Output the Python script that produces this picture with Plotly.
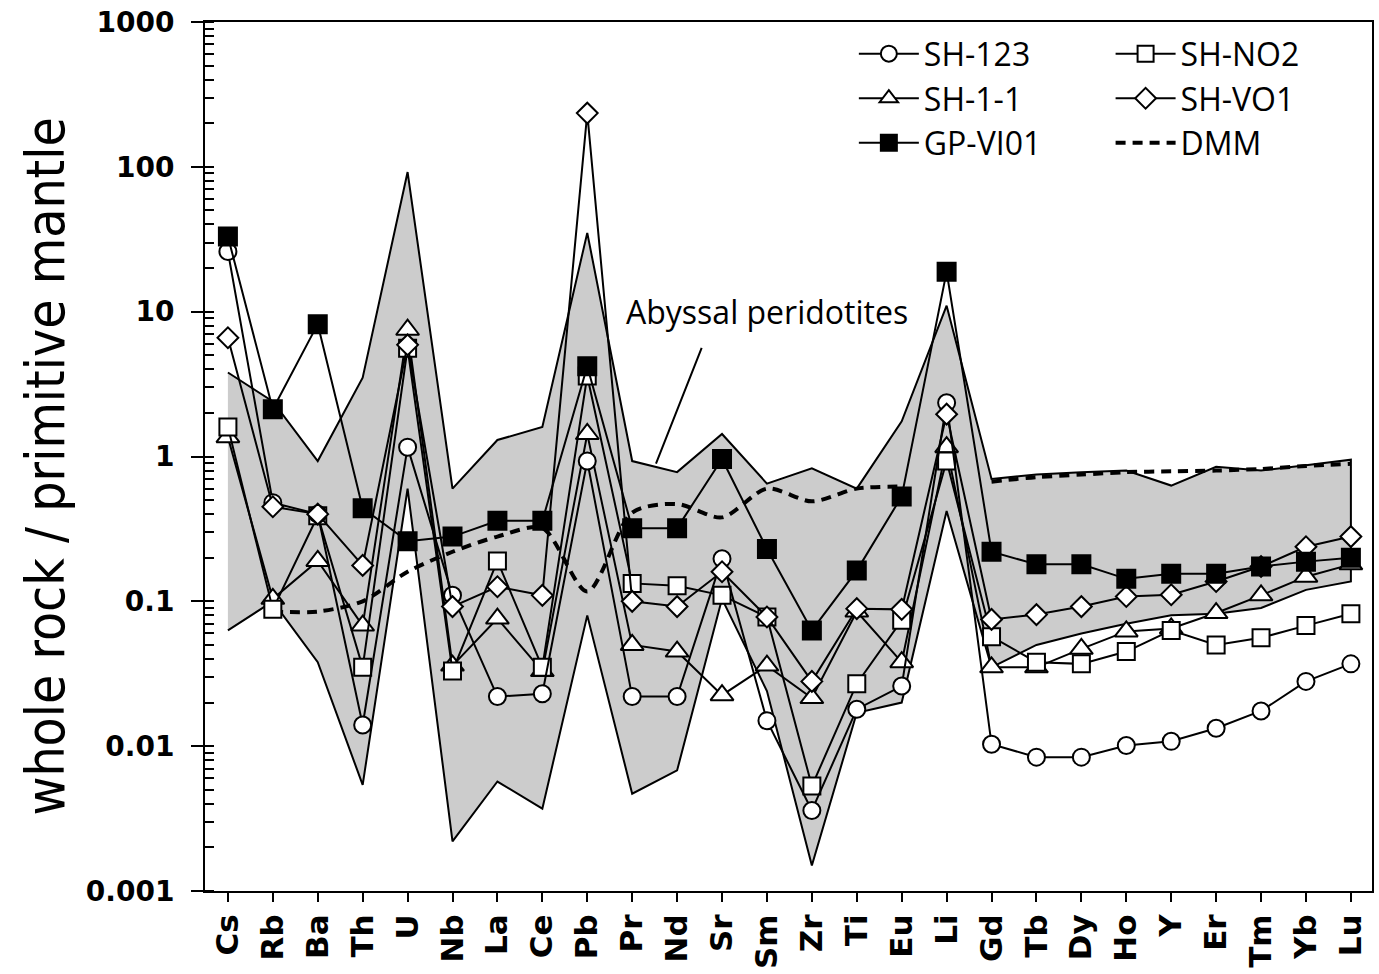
import plotly.graph_objects as go

elements = ["Cs", "Rb", "Ba", "Th", "U", "Nb", "La", "Ce", "Pb", "Pr", "Nd", "Sr", "Sm",
            "Zr", "Ti", "Eu", "Li", "Gd", "Tb", "Dy", "Ho", "Y", "Er", "Tm", "Yb", "Lu"]

sh_123 = [26, 0.48, 0.40, 0.014, 1.16, 0.11, 0.022, 0.023, 0.93, 0.022, 0.022, 0.197, 0.015,
          0.0036, 0.018, 0.026, 2.35, 0.0103, 0.0084, 0.0084, 0.0101, 0.0108, 0.0133, 0.0175, 0.028, 0.037]
sh_no2 = [1.6, 0.088, 0.39, 0.035, 5.6, 0.033, 0.19, 0.035, 3.6, 0.133, 0.128, 0.11, 0.078,
          0.0053, 0.027, 0.074, 0.93, 0.057, 0.038, 0.037, 0.045, 0.063, 0.05, 0.056, 0.068, 0.082]
sh_1_1 = [1.36, 0.104, 0.19, 0.068, 7.5, 0.036, 0.076, 0.033, 1.43, 0.05, 0.045, 0.0225, 0.036,
          0.0215, 0.085, 0.038, 1.16, 0.035, 0.035, 0.047, 0.062, 0.065, 0.083, 0.11, 0.148, 0.18]
sh_vo1 = [6.6, 0.45, 0.40, 0.177, 5.9, 0.092, 0.126, 0.11, 235, 0.10, 0.092, 0.16, 0.078,
          0.028, 0.089, 0.088, 1.96, 0.075, 0.081, 0.092, 0.108, 0.111, 0.137, 0.174, 0.238, 0.28]
gp_vi01 = [33, 2.12, 8.2, 0.44, 0.26, 0.28, 0.36, 0.36, 4.2, 0.32, 0.32, 0.96, 0.23,
           0.063, 0.163, 0.53, 18.9, 0.22, 0.18, 0.18, 0.143, 0.155, 0.155, 0.174, 0.188, 0.2]
dmm = [None, 0.085, 0.085, 0.10, 0.16, 0.22, 0.28, 0.32, 0.117, 0.41, 0.47, 0.38, 0.60,
       0.49, 0.60, 0.62, None, 0.67, 0.72, 0.75, 0.78, 0.79, 0.80, 0.82, 0.86, 0.89]

abyssal_top = [3.8, 2.4, 0.93, 3.5, 92, 0.6, 1.3, 1.6, 35, 0.93, 0.78, 1.43, 0.65,
               0.83, 0.6, 1.75, 11, 0.70, 0.75, 0.78, 0.80, 0.63, 0.85, 0.80, 0.87, 0.95]
abyssal_bottom = [0.063, 0.10, 0.038, 0.0054, 0.6, 0.0022, 0.0057, 0.0037, 0.08, 0.0047, 0.0068, 0.104, 0.024,
                  0.0015, 0.017, 0.02, 0.42, 0.035, 0.05, 0.06, 0.07, 0.08, 0.082, 0.09, 0.12, 0.137]

y_tick_vals = [0.001, 0.01, 0.1, 1, 10, 100, 1000]
y_tick_text = ["0.001", "0.01", "0.1", "1", "10", "100", "1000"]

xi = list(range(len(elements)))

fig = go.Figure()

# Abyssal peridotite field
fig.add_trace(go.Scatter(
    x=xi + xi[::-1], y=abyssal_top + abyssal_bottom[::-1],
    fill="toself", fillcolor="#cccccc", mode="lines",
    line=dict(color="black", width=2), showlegend=False, hoverinfo="skip"))

LEG_FONT = dict(family="Open Sans, Noto Sans, sans-serif", size=32, color="black")

fig.add_trace(go.Scatter(
    x=xi, y=dmm, mode="lines", name="DMM", legend="legend2", legendrank=3,
    line=dict(color="black", width=4, dash="10px,7px", shape="spline", smoothing=0.8),
    connectgaps=False))


def sample(name, vals, symbol, size, fill, legend, rank):
    fig.add_trace(go.Scatter(
        x=xi, y=vals, mode="lines+markers", name=name, legend=legend, legendrank=rank,
        line=dict(color="black", width=2),
        marker=dict(symbol=symbol, size=size, color=fill,
                    line=dict(color="black", width=2))))


sample("SH-1-1", sh_1_1, "triangle-up", 20, "white", "legend", 2)
sample("SH-NO2", sh_no2, "square", 17, "white", "legend2", 1)
sample("SH-123", sh_123, "circle", 17, "white", "legend", 1)
sample("SH-VO1", sh_vo1, "diamond", 16, "white", "legend2", 2)
sample("GP-VI01", gp_vi01, "square", 18, "black", "legend", 3)

fig.add_annotation(x=12, y=1, xref="x", yref="y", text="Abyssal peridotites",
                   showarrow=False, font=LEG_FONT, xanchor="center", yanchor="middle")
fig.add_annotation(x=9.53, y=-0.05, xref="x", yref="y", ax=10.56, ay=0.761,
                   axref="x", ayref="y", text="", showarrow=True, arrowhead=0,
                   arrowwidth=2, arrowcolor="black")

# y-axis title
fig.add_annotation(x=-0.137, y=0.5, xref="paper", yref="paper", yshift=-10,
                   text="whole rock / primitive mantle", textangle=-90, showarrow=False,
                   xanchor="center", yanchor="middle",
                   font=dict(family="DejaVu Sans Condensed, DejaVu Sans", size=53, color="black"))

fig.update_layout(
    width=1379, height=974,
    margin=dict(l=205, r=5, t=22, b=81),
    paper_bgcolor="white", plot_bgcolor="white",
    legend=dict(x=0.556, y=0.995, xanchor="left", yanchor="top", font=LEG_FONT,
                bgcolor="rgba(0,0,0,0)", tracegroupgap=0, itemwidth=60),
    legend2=dict(x=0.776, y=0.995, xanchor="left", yanchor="top", font=LEG_FONT,
                 bgcolor="rgba(0,0,0,0)", tracegroupgap=0, itemwidth=60),
)

fig.update_xaxes(
    range=[-0.51, 25.47], tickmode="array", tickvals=xi, ticktext=elements,
    tickangle=-90, ticks="outside", ticklen=9, tickwidth=2, tickcolor="black",
    showline=True, linecolor="black", linewidth=2, mirror=True, showgrid=False,
    zeroline=False,
    tickfont=dict(family="DejaVu Sans", size=31, color="black", weight="bold"))

fig.update_yaxes(
    type="log", range=[-3, 3], tickmode="array", tickvals=y_tick_vals, ticktext=y_tick_text,
    ticks="outside", ticklen=12, tickwidth=2, tickcolor="black",
    minor=dict(ticks="inside", ticklen=9, tickwidth=2, tickcolor="black", dtick="D1", showgrid=False),
    showline=True, linecolor="black", linewidth=2, mirror=True, showgrid=False,
    zeroline=False, ticklabelstandoff=11,
    tickfont=dict(family="DejaVu Sans", size=28, color="black", weight="bold"))

fig.write_html("out.html")
